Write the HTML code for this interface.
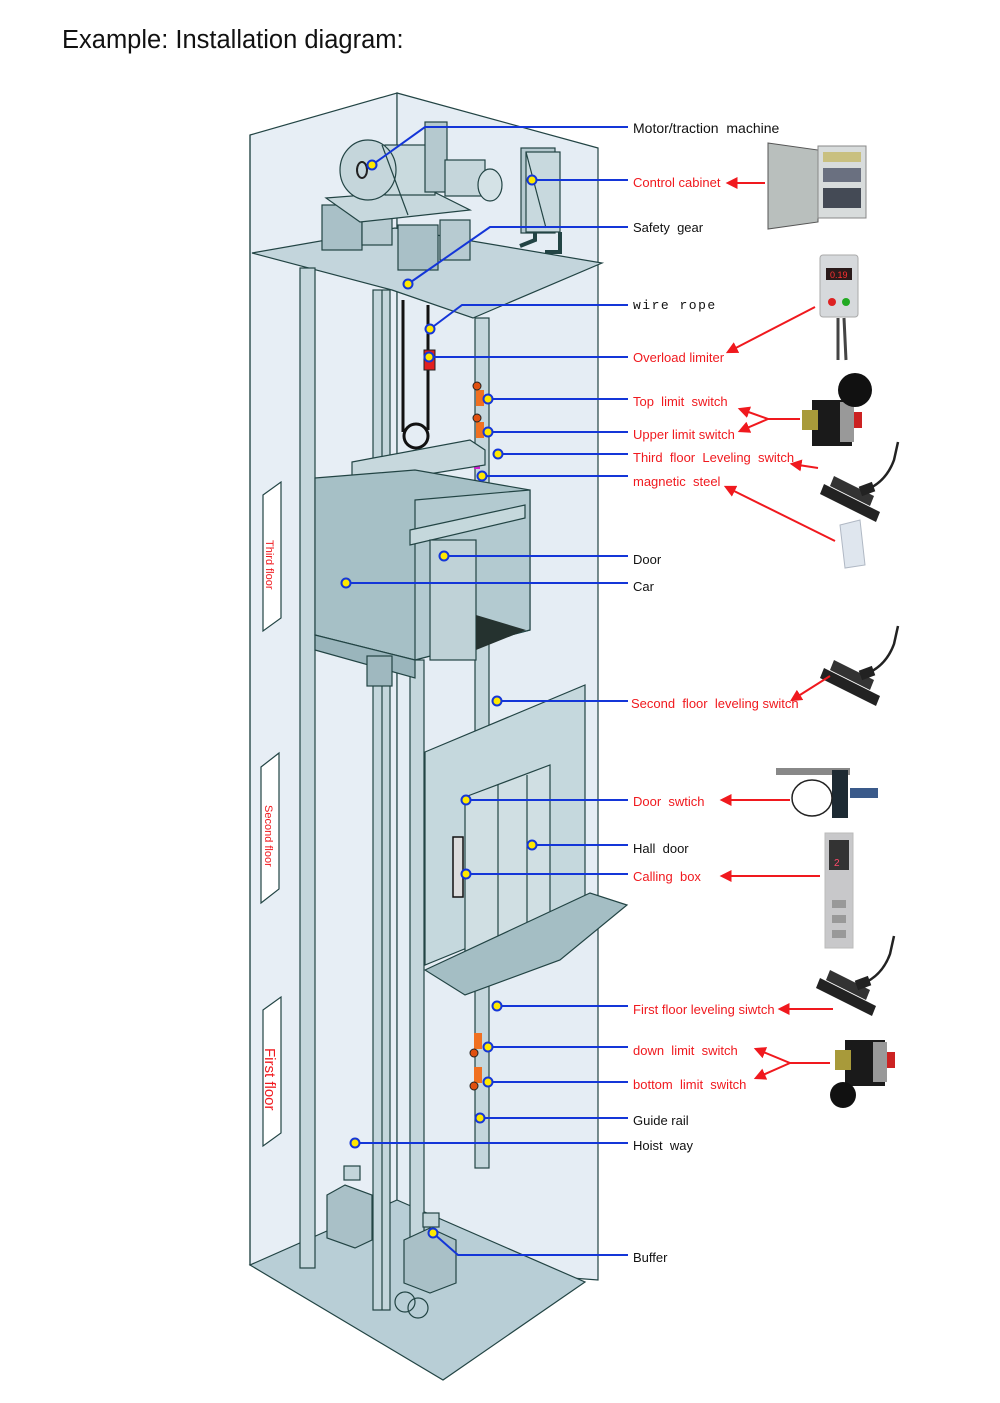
<!DOCTYPE html>
<html><head><meta charset="utf-8"><style>
html,body{margin:0;padding:0;background:#fff;}
svg{display:block;}
text{font-family:"Liberation Sans",sans-serif;white-space:pre;}
.b{fill:#111;font-size:13px;}
.r{fill:#f0191e;font-size:13px;}
.bl{stroke:#1436d8;stroke-width:2;fill:none;}
.ra{stroke:#f0191e;stroke-width:2;fill:none;marker-end:url(#ah);}
.o{stroke:#244;stroke-width:1.2;}
</style></head><body>
<svg width="1000" height="1403" viewBox="0 0 1000 1403" xmlns="http://www.w3.org/2000/svg" xml:space="preserve">
<defs>
<marker id="ah" viewBox="0 0 10 10" refX="8" refY="5" markerWidth="6" markerHeight="6" orient="auto"><path d="M0,0L10,5L0,10z" fill="#f0191e"/></marker>
<g id="lev">
<path d="M0,6 L56,34 L52,44 L-4,16z" fill="#222"/>
<path d="M10,-2 L50,18 L46,28 L6,8z" fill="#333"/>
<path d="M42,12 Q62,4 70,-18 L74,-36" stroke="#222" stroke-width="2.5" fill="none"/>
<rect x="36" y="6" width="14" height="10" fill="#222" transform="rotate(-20 43 11)"/>
</g>
<g id="lim">
<rect x="0" y="0" width="40" height="46" fill="#1a1a1a"/>
<rect x="-10" y="10" width="16" height="20" fill="#a89a3a"/>
<rect x="40" y="12" width="10" height="16" fill="#cc2222"/>
<rect x="28" y="2" width="14" height="40" fill="#999"/>
</g>
</defs>

<text x="62" y="48" style="font-size:25.5px;fill:#111">Example: Installation diagram:</text>

<polygon points="250,135 397,93 397,1265 250,1265" fill="#e7eef5" class="o"/>
<polygon points="397,93 598,148 598,1280 397,1265" fill="#e5edf4" class="o"/>
<polygon points="250,1265 443,1380 585,1282 397,1200" fill="#b8ced6" class="o"/>
<line x1="250" y1="135" x2="250" y2="1265" class="o"/>
<polygon points="252,253 395,228 602,263 473,318 392,290" fill="#c3d5dc" class="o"/>
<rect x="322" y="205" width="40" height="45" fill="#a9c0c7" class="o"/>
<rect x="362" y="210" width="30" height="35" fill="#b7cbd1" class="o"/>
<rect x="398" y="225" width="40" height="45" fill="#a9c0c7" class="o"/>
<rect x="440" y="220" width="30" height="40" fill="#b7cbd1" class="o"/>
<polygon points="326,198 430,190 470,210 360,222" fill="#c7d8dd" class="o"/>
<rect x="385" y="145" width="50" height="50" fill="#c9dade" class="o"/>
<rect x="425" y="122" width="22" height="70" fill="#b5c9cf" class="o"/>
<ellipse cx="368" cy="170" rx="28" ry="30" fill="#c5d6db" class="o"/>
<ellipse cx="362" cy="170" rx="5" ry="8" fill="none" stroke="#222" stroke-width="2"/>
<rect x="445" y="160" width="40" height="36" fill="#c5d6db" class="o"/>
<ellipse cx="490" cy="185" rx="12" ry="16" fill="#d4e2e6" class="o"/>
<line x1="382" y1="145" x2="408" y2="215" class="o"/>
<rect x="521" y="148" width="34" height="85" fill="#b5c9cf" class="o"/>
<rect x="526" y="152" width="34" height="80" fill="#c8d9de" class="o"/>
<line x1="526" y1="152" x2="546" y2="228" class="o"/>
<path d="M520,246 L535,240 L535,232 M545,252 L560,252 L560,232" stroke="#244" stroke-width="4" fill="none"/>
<rect x="300" y="268" width="15" height="1000" fill="#c4d6dc" class="o"/>
<rect x="373" y="290" width="17" height="1020" fill="#c4d6dc" class="o"/>
<line x1="382" y1="290" x2="382" y2="1310" class="o"/>
<rect x="475" y="318" width="14" height="850" fill="#c4d6dc" class="o"/>
<rect x="410" y="660" width="14" height="620" fill="#c4d6dc" class="o"/>
<path d="M403,300 L403,432 M428,305 L428,430" stroke="#111" stroke-width="3" fill="none"/>
<circle cx="416" cy="436" r="12" fill="none" stroke="#111" stroke-width="3"/>
<rect x="424" y="350" width="11" height="20" fill="#e21f1f" stroke="#222"/>
<rect x="476" y="390" width="8" height="16" fill="#f07020"/><circle cx="477" cy="386" r="4" fill="#e05010" stroke="#222"/>
<rect x="476" y="422" width="8" height="16" fill="#f07020"/><circle cx="477" cy="418" r="4" fill="#e05010" stroke="#222"/>
<rect x="474" y="463" width="6" height="6" fill="#d020d0"/>
<polygon points="352,462 470,440 485,450 485,465 360,485 352,475" fill="#c7d8dd" class="o"/>
<polygon points="315,478 415,470 530,490 530,630 415,660 315,635" fill="#a6c0c6" class="o"/>
<polygon points="415,500 530,490 530,630 415,660" fill="#b3cad0" class="o"/>
<polygon points="315,635 415,660 415,678 315,650" fill="#9ab5bc" class="o"/>
<polygon points="410,530 525,505 525,518 410,545" fill="#c5d8dc" class="o"/>
<rect x="430" y="540" width="46" height="120" fill="#bfd2d7" class="o"/>
<polygon points="476,615 526,630 476,650" fill="#25322f"/>
<rect x="367" y="656" width="25" height="30" fill="#9fb8bf" class="o"/>
<polygon points="263,495 281,482 281,618 263,631" fill="#fff" class="o"/>
<text transform="translate(266,540) rotate(90)" style="font-size:11px;fill:#f0191e">Third floor</text>
<polygon points="261,767 279,753 279,889 261,903" fill="#fff" class="o"/>
<text transform="translate(265,805) rotate(90)" style="font-size:11px;fill:#f0191e">Second floor</text>
<polygon points="263,1010 281,997 281,1133 263,1146" fill="#fff" class="o"/>
<text transform="translate(265,1048) rotate(90)" style="font-size:15px;fill:#f0191e">First floor</text>
<polygon points="425,752 585,685 585,900 425,965" fill="#c5d8dd" class="o"/>
<polygon points="465,797 550,765 550,925 465,955" fill="#d0dfe3" class="o"/>
<line x1="498" y1="785" x2="498" y2="945" class="o"/><line x1="527" y1="775" x2="527" y2="935" class="o"/>
<rect x="453" y="837" width="10" height="60" fill="#ddd" stroke="#111" stroke-width="1.5"/>
<polygon points="425,970 590,893 627,905 560,960 465,995" fill="#a4bec4" class="o"/>
<rect x="474" y="1033" width="8" height="16" fill="#f07020"/><circle cx="474" cy="1053" r="4" fill="#e05010" stroke="#222"/>
<rect x="474" y="1067" width="8" height="16" fill="#f07020"/><circle cx="474" cy="1086" r="4" fill="#e05010" stroke="#222"/>
<polygon points="327,1195 345,1185 372,1195 372,1240 355,1248 327,1238" fill="#a9c0c7" class="o"/>
<rect x="344" y="1166" width="16" height="14" fill="#c3d5da" class="o"/>
<polygon points="404,1240 430,1228 456,1240 456,1283 430,1293 404,1283" fill="#a9c0c7" class="o"/>
<rect x="423" y="1213" width="16" height="14" fill="#c3d5da" class="o"/>
<circle cx="405" cy="1302" r="10" fill="none" class="o"/><circle cx="418" cy="1308" r="10" fill="none" class="o"/>

<g class="bl">
<path d="M372,165 L425,127 L628,127"/>
<path d="M532,180 L628,180"/>
<path d="M408,284 L490,227 L628,227"/>
<path d="M430,329 L462,305 L628,305"/>
<path d="M429,357 L628,357"/>
<path d="M488,399 L628,399"/>
<path d="M488,432 L628,432"/>
<path d="M498,454 L628,454"/>
<path d="M482,476 L628,476"/>
<path d="M444,556 L628,556"/>
<path d="M346,583 L628,583"/>
<path d="M497,701 L628,701"/>
<path d="M466,800 L628,800"/>
<path d="M532,845 L628,845"/>
<path d="M466,874 L628,874"/>
<path d="M497,1006 L628,1006"/>
<path d="M488,1047 L628,1047"/>
<path d="M488,1082 L628,1082"/>
<path d="M480,1118 L628,1118"/>
<path d="M355,1143 L628,1143"/>
<path d="M433,1233 L458,1255 L628,1255"/>
</g>
<g fill="#ffe800" stroke="#1436d8" stroke-width="2">
<circle cx="372" cy="165" r="4.5"/><circle cx="532" cy="180" r="4.5"/><circle cx="408" cy="284" r="4.5"/>
<circle cx="430" cy="329" r="4.5"/><circle cx="429" cy="357" r="4.5"/><circle cx="488" cy="399" r="4.5"/>
<circle cx="488" cy="432" r="4.5"/><circle cx="498" cy="454" r="4.5"/><circle cx="482" cy="476" r="4.5"/>
<circle cx="444" cy="556" r="4.5"/><circle cx="346" cy="583" r="4.5"/><circle cx="497" cy="701" r="4.5"/>
<circle cx="466" cy="800" r="4.5"/><circle cx="532" cy="845" r="4.5"/><circle cx="466" cy="874" r="4.5"/>
<circle cx="497" cy="1006" r="4.5"/><circle cx="488" cy="1047" r="4.5"/><circle cx="488" cy="1082" r="4.5"/>
<circle cx="480" cy="1118" r="4.5"/><circle cx="355" cy="1143" r="4.5"/><circle cx="433" cy="1233" r="4.5"/>
</g>

<text x="633" y="133" class="b" style="font-size:14px">Motor/traction  machine</text>
<text x="633" y="187" class="r">Control cabinet</text>
<text x="633" y="232" class="b">Safety  gear</text>
<text x="633" y="309" class="b" style="font-family:'Liberation Mono',monospace;font-size:13px;letter-spacing:1.5px">wire rope</text>
<text x="633" y="362" class="r">Overload limiter</text>
<text x="633" y="406" class="r">Top  limit  switch</text>
<text x="633" y="439" class="r">Upper limit switch</text>
<text x="633" y="462" class="r">Third  floor  Leveling  switch</text>
<text x="633" y="486" class="r">magnetic  steel</text>
<text x="633" y="564" class="b">Door</text>
<text x="633" y="591" class="b">Car</text>
<text x="631" y="708" class="r">Second  floor  leveling switch</text>
<text x="633" y="806" class="r">Door  swtich</text>
<text x="633" y="853" class="b">Hall  door</text>
<text x="633" y="881" class="r">Calling  box</text>
<text x="633" y="1014" class="r">First floor leveling siwtch</text>
<text x="633" y="1055" class="r">down  limit  switch</text>
<text x="633" y="1089" class="r">bottom  limit  switch</text>
<text x="633" y="1125" class="b">Guide rail</text>
<text x="633" y="1150" class="b">Hoist  way</text>
<text x="633" y="1262" class="b">Buffer</text>

<polygon points="768,143 818,150 818,222 768,229" fill="#b9bfbd" stroke="#555"/>
<rect x="818" y="146" width="48" height="72" fill="#d8dcdc" stroke="#888"/>
<rect x="823" y="152" width="38" height="10" fill="#c9c080"/><rect x="823" y="168" width="38" height="14" fill="#6a7080"/><rect x="823" y="188" width="38" height="20" fill="#444a55"/>
<rect x="820" y="255" width="38" height="62" rx="3" fill="#d6d9dc" stroke="#aaa"/>
<rect x="826" y="268" width="26" height="12" fill="#2a1a1a"/><text x="830" y="278" style="font-size:9px;fill:#ff3030">0.19</text>
<circle cx="832" cy="302" r="4" fill="#d22"/><circle cx="846" cy="302" r="4" fill="#2a2"/>
<path d="M838,318 L838,360 M844,318 L846,360" stroke="#444" stroke-width="3"/>
<use href="#lim" x="812" y="400"/>
<circle cx="855" cy="390" r="17" fill="#111"/>
<use href="#lev" x="824" y="478"/>
<polygon points="840,525 860,520 865,565 845,568" fill="#dfe6ee" stroke="#b0b8c4"/>
<use href="#lev" x="824" y="662"/>
<path d="M776,768 L850,768 L850,775 L776,775z" fill="#888"/>
<rect x="832" y="770" width="16" height="48" fill="#1d2a33"/>
<ellipse cx="812" cy="798" rx="20" ry="18" fill="none" stroke="#222" stroke-width="1.5"/>
<rect x="850" y="788" width="28" height="10" fill="#3a5a8a"/>
<rect x="825" y="833" width="28" height="115" fill="#c8c8ca" stroke="#bbb"/>
<rect x="829" y="840" width="20" height="30" fill="#333"/><text x="834" y="866" style="font-size:10px;fill:#ff4a6a">2</text>
<rect x="832" y="900" width="14" height="8" fill="#999"/><rect x="832" y="915" width="14" height="8" fill="#999"/><rect x="832" y="930" width="14" height="8" fill="#999"/>
<use href="#lev" x="820" y="972"/>
<use href="#lim" x="845" y="1040"/>
<circle cx="843" cy="1095" r="13" fill="#111"/>

<g class="ra">
<path d="M765,183 L728,183"/>
<path d="M815,307 L728,352"/>
<path d="M800,419 L768,419 L740,409"/>
<path d="M768,419 L740,431"/>
<path d="M818,468 L792,464"/>
<path d="M835,541 L726,487"/>
<path d="M830,676 L792,700"/>
<path d="M790,800 L722,800"/>
<path d="M820,876 L722,876"/>
<path d="M833,1009 L780,1009"/>
<path d="M830,1063 L790,1063 L756,1049"/>
<path d="M790,1063 L756,1078"/>
</g>
</svg>
</body></html>
